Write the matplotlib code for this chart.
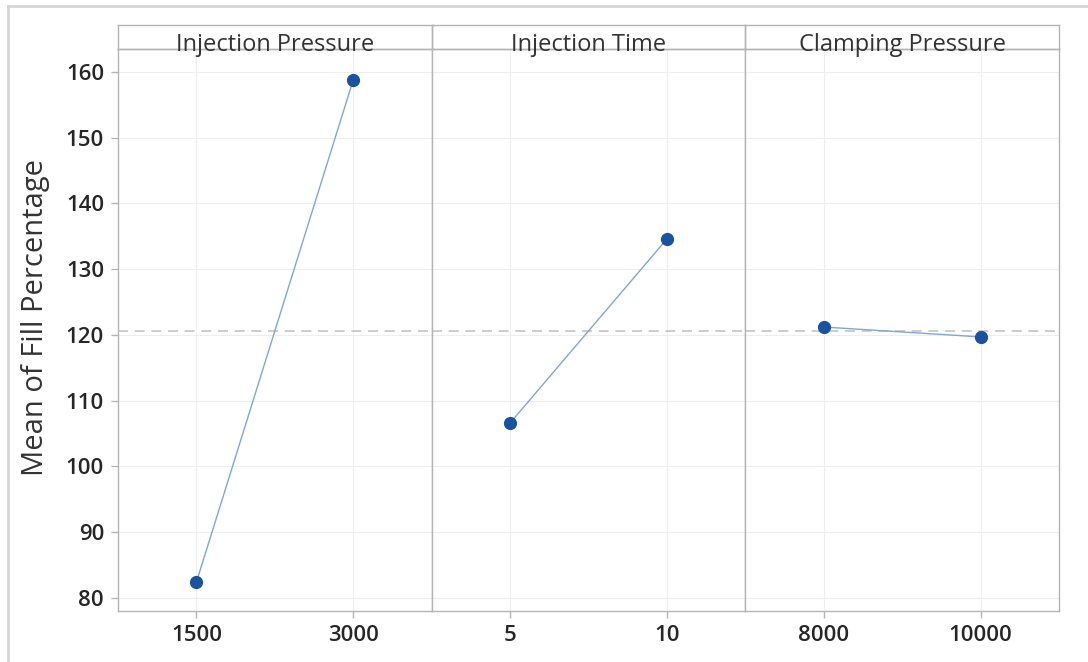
import matplotlib
matplotlib.use("Agg")
import matplotlib.pyplot as plt
from matplotlib.lines import Line2D

# Data
factors = ["Injection Pressure", "Injection Time", "Clamping Pressure"]
levels = [["1500", "3000"], ["5", "10"], ["8000", "10000"]]
means = [[82.4, 158.8], [106.6, 134.6], [121.2, 119.7]]
grand_mean = 120.6
yticks = [80, 90, 100, 110, 120, 130, 140, 150, 160]

# Colors
marker_color = "#1b52a0"
line_color = "#7ea6d8"
frame_color = "#b4b4b4"
grid_color = "#eeeeee"
text_color = "#333333"

plt.rcParams["font.family"] = ["Open Sans", "DejaVu Sans"]

W, H = 1088, 662
fig = plt.figure(figsize=(W / 100, H / 100), dpi=100, facecolor="white")

# outer light border (left and top)
fig.add_artist(Line2D([8 / W, 8 / W], [0, 1 - 6 / H], color="#d6d6d6", lw=2))
fig.add_artist(Line2D([8 / W, 1], [1 - 6 / H, 1 - 6 / H], color="#d6d6d6", lw=2))

left, right = 118, 1059
top_strip, top_data, bottom = 25, 49, 611
pw = (right - left) / 3

for i, (name, lv, m) in enumerate(zip(factors, levels, means)):
    x0 = left + i * pw
    ax = fig.add_axes([x0 / W, 1 - bottom / H, pw / W, (bottom - top_data) / H])
    sx = fig.add_axes([x0 / W, 1 - top_data / H, pw / W, (top_data - top_strip) / H])

    ax.plot([0, 1], m, color=line_color, lw=1, zorder=3)
    ax.plot([0, 1], m, "o", color=marker_color, ms=8.5, zorder=4)
    ax.axhline(grand_mean, color="#c4c4c4", lw=1.2, ls=(0, (6, 4)), zorder=2)

    ax.set_xlim(-0.5, 1.5)
    ax.set_ylim(78.0, 163.5)
    ax.set_xticks([0, 1])
    ax.set_xticklabels(lv)
    ax.set_yticks(yticks)
    ax.grid(True, color=grid_color, lw=0.8)
    ax.set_axisbelow(True)
    for s in ax.spines.values():
        s.set_color(frame_color)
        s.set_linewidth(1)
    ax.tick_params(axis="both", colors=frame_color, length=5, width=1,
                   labelcolor="#262626", labelsize=16)
    for lab in ax.get_xticklabels() + ax.get_yticklabels():
        lab.set_fontweight("semibold")
    ax.tick_params(axis="x", pad=5)
    ax.tick_params(axis="y", pad=5)
    if i > 0:
        ax.tick_params(axis="y", left=False, labelleft=False)
    else:
        ax.set_ylabel("Mean of Fill Percentage", fontsize=21, color=text_color,
                      fontweight="medium")
        ax.yaxis.set_label_coords(-(118 - 50) / pw, (611 - 318) / (611 - 49))

    sx.set_xticks([])
    sx.set_yticks([])
    sx.patch.set_alpha(0)
    for s in sx.spines.values():
        s.set_color(frame_color)
        s.set_linewidth(1)
    sx.text(0.5, -0.08, name, ha="center", va="baseline", fontsize=17, color=text_color,
            transform=sx.transAxes, zorder=5)

fig.savefig("out.png", dpi=100, facecolor="white")
